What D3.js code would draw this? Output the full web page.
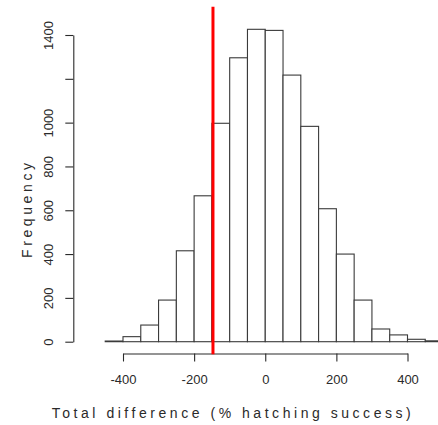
<!DOCTYPE html>
<html>
<head>
<meta charset="utf-8">
<script src="https://cdn.jsdelivr.net/npm/d3@7"></script>
<style>
  body { margin: 0; background: #fff; }
  text { font-family: "Liberation Sans", Arial, sans-serif; fill: #2a2a2a; }
</style>
</head>
<body>
<div id="chart"></div>
<script>
// histogram bins (left edges, width 50) and counts
var binStarts = [-450, -400, -350, -300, -250, -200, -150, -100, -50, 0, 50, 100, 150, 200, 250, 300, 350, 400, 450];
var counts = [3, 23, 76, 190, 415, 666, 997, 1296, 1426, 1421, 1217, 983, 607, 400, 190, 58, 31, 11, 4];
var binWidth = 50;
var xTicks = [-400, -200, 0, 200, 400];
var yTicks = [0, 200, 400, 600, 800, 1000, 1200, 1400];
var yLabels = ["0", "200", "400", "600", "800", "1000", "", "1400"];
var observed = -147;

var svgWidth = 438;
var svgHeight = 425;

var svg = d3.select("#chart")
  .append("svg")
  .attr("width", svgWidth)
  .attr("height", svgHeight);

var x = d3.scaleLinear()
  .domain([-400, 400])
  .range([123, 407.5]);

var y = d3.scaleLinear()
  .domain([0, 1400])
  .range([341.7, 35]);

// bars
svg.append("g")
  .selectAll("rect")
  .data(binStarts)
  .enter()
  .append("rect")
  .attr("x", d => x(d))
  .attr("width", d => x(d + binWidth) - x(d))
  .attr("y", (d, i) => y(counts[i]))
  .attr("height", (d, i) => y(0) - y(counts[i]))
  .attr("fill", "#fff")
  .attr("stroke", "#3a3a3a")
  .attr("stroke-width", 1.1);

// y axis
var yAxis = svg.append("g")
  .attr("transform", "translate(73.3,0)")
  .call(d3.axisLeft(y).tickValues(yTicks).tickSize(8).tickSizeOuter(0)
    .tickFormat((d, i) => yLabels[i]));
yAxis.selectAll("path, line").attr("stroke", "#2a2a2a").attr("stroke-width", 1.1);
yAxis.selectAll("text")
  .attr("x", 0)
  .attr("dy", 0)
  .attr("transform", "translate(-20,0) rotate(-90)")
  .attr("text-anchor", "middle")
  .style("font-size", "13px")
  .style("font-family", "'Liberation Sans', Arial, sans-serif")
  .attr("fill", "#2a2a2a");

// x axis (plain hyphen for negatives, like R)
var xAxis = svg.append("g")
  .attr("transform", "translate(0,353.5)")
  .call(d3.axisBottom(x).tickValues(xTicks).tickSize(8).tickSizeOuter(0).tickPadding(13)
    .tickFormat(d => String(d)));
xAxis.selectAll("path, line").attr("stroke", "#2a2a2a").attr("stroke-width", 1.1);
xAxis.selectAll("text")
  .style("font-size", "13px")
  .style("font-family", "'Liberation Sans', Arial, sans-serif")
  .attr("fill", "#2a2a2a");

// observed value
svg.append("line")
  .attr("x1", x(observed))
  .attr("x2", x(observed))
  .attr("y1", 6.7)
  .attr("y2", 354.3)
  .attr("stroke", "#ff0000")
  .attr("stroke-width", 3);

// axis titles
svg.append("text")
  .attr("x", 51.7)
  .attr("y", 418)
  .attr("textLength", 359)
  .attr("lengthAdjust", "spacing")
  .style("font-size", "14px")
  .text("Total difference (% hatching success)");

svg.append("text")
  .attr("transform", "translate(31.5,258) rotate(-90)")
  .attr("textLength", 95)
  .attr("lengthAdjust", "spacing")
  .style("font-size", "14px")
  .text("Frequency");
</script>
</body>
</html>
